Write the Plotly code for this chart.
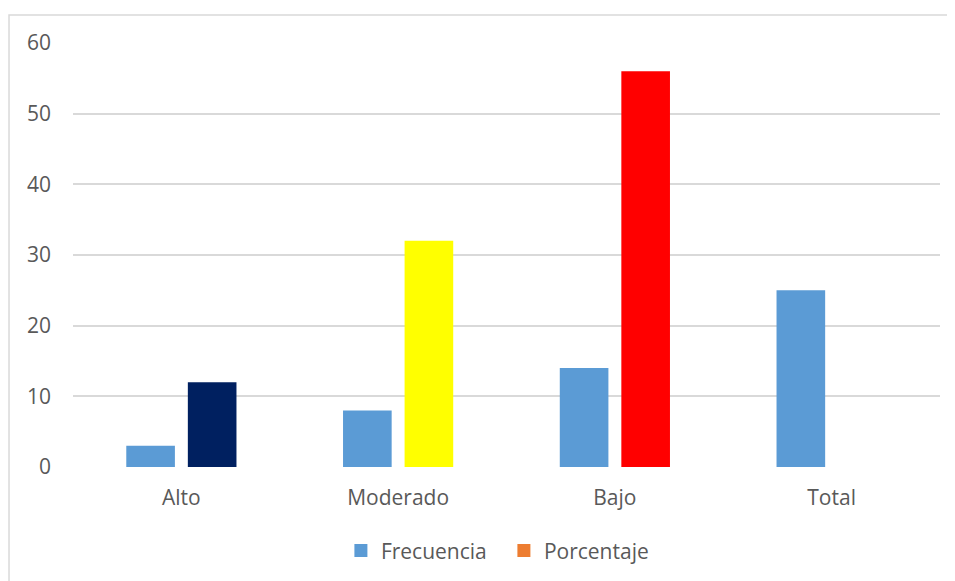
import plotly.graph_objects as go

categories = ["Alto", "Moderado", "Bajo", "Total"]
frecuencia = [3, 8, 14, 25]
porcentaje = [12, 32, 56, None]
porcentaje_colors = ["#002060", "#FFFF00", "#FF0000", "#ED7D31"]
y_ticks = [0, 10, 20, 30, 40, 50, 60]

FREC_COLOR = "#5B9BD5"
PORC_COLOR = "#ED7D31"
FONT = "Open Sans"
TXT = "#595959"

fig = go.Figure()
fig.add_trace(go.Bar(name="Frecuencia", x=categories, y=frecuencia,
                     marker=dict(color=FREC_COLOR, line=dict(width=0)), showlegend=False))
fig.add_trace(go.Bar(name="Porcentaje", x=categories, y=porcentaje,
                     marker=dict(color=porcentaje_colors, line=dict(width=0)), showlegend=False))
# legend entries
fig.add_trace(go.Scatter(name="Frecuencia", x=[None], y=[None], mode="markers",
                         marker=dict(symbol="square", size=13, color=FREC_COLOR)))
fig.add_trace(go.Scatter(name="Porcentaje", x=[None], y=[None], mode="markers",
                         marker=dict(symbol="square", size=13, color=PORC_COLOR)))

fig.update_layout(
    width=955, height=581,
    margin=dict(l=65, r=23, t=35, b=122),
    paper_bgcolor="white", plot_bgcolor="white",
    barmode="group", bargap=0.432, bargroupgap=0.21,
    font=dict(family=FONT, size=21, color=TXT),
    legend=dict(orientation="h", x=0.497, xanchor="center", y=-0.198, yanchor="middle",
                font=dict(family=FONT, size=21, color=TXT), itemwidth=30,
                entrywidth=118, entrywidthmode="pixels", tracegroupgap=0),
    shapes=[dict(type="rect", xref="paper", yref="paper",
                 x0=-0.0738, x1=1.04, y0=-0.32, y1=1.066,
                 line=dict(color="#D9D9D9", width=1.5), fillcolor="rgba(0,0,0,0)", layer="below")],
)
fig.update_yaxes(range=[0, 60], tickvals=y_ticks, showgrid=True, gridcolor="#D9D9D9", gridwidth=1.5,
                 zeroline=False, showline=False, ticks="", ticklabelstandoff=21,
                 tickfont=dict(family=FONT, size=21, color=TXT))
fig.update_xaxes(showgrid=False, zeroline=False, showline=False, ticks="", ticklabelstandoff=16,
                 tickfont=dict(family=FONT, size=21, color=TXT))

fig.write_html("out.html")
